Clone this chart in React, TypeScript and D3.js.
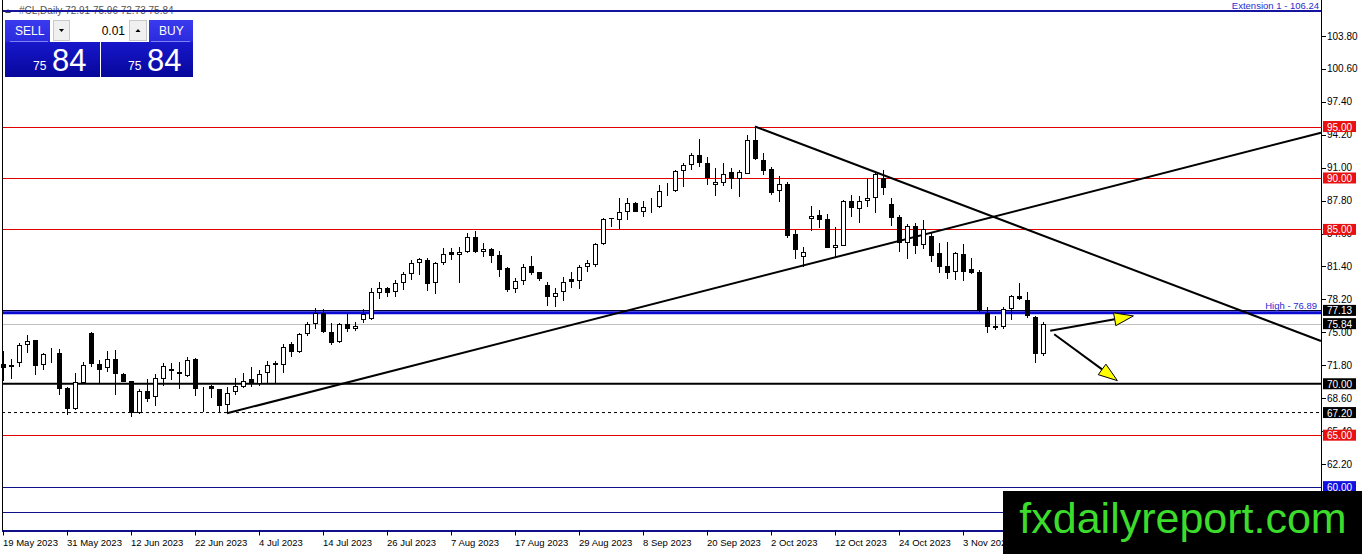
import * as d3 from 'd3';

// daily bars, 19 May 2023 .. 17 Nov 2023 (one per weekday)
const opens = [
  71.95, 71.65, 71.99, 73.74, 74.26, 71.79, 73.05, 72.96, 69.56, 67.52,
  70.11, 74.98, 71.92, 71.5, 72.41, 70.92, 70.24, 67.2, 69.33, 68.68,
  70.5, 71.44, 71.18, 70.79, 72.41, 69.5, 69.75, 69.46, 67.94, 69.17,
  69.72, 70.43, 69.98, 71.02, 71.85, 71.83, 73.84, 73.06, 74.81, 75.78,
  76.85, 75.07, 74.1, 75.81, 75.3, 76.2, 76.27, 78.79, 79.28, 78.89,
  79.76, 80.64, 81.71, 82.03, 79.76, 81.71, 82.78, 82.52, 82.84, 84.3,
  82.81, 83.07, 82.52, 81.22, 79.18, 80.02, 81.45, 80.83, 79.6, 78.47,
  78.89, 80.18, 79.99, 81.32, 81.55, 83.59, 86.08, 85.92, 86.66, 87.6,
  86.73, 87.3, 87.2, 88.7, 88.74, 90.68, 91.26, 92.23, 91.49, 89.29,
  89.55, 90.55, 89.87, 90.39, 93.69, 91.75, 90.84, 88.74, 89.39, 84.56,
  82.29, 85.98, 86.4, 86.02, 83.17, 83.43, 87.77, 86.95, 87.8, 88.02,
  90.03, 87.44, 86.24, 83.65, 85.33, 83.49, 84.36, 82.68, 81.45, 80.83,
  82.61, 81.12, 80.9, 76.85, 75.62, 75.55, 77.24, 78.53, 78.14, 76.46,
  72.91,
];
const highs = [
  73.2, 72.38, 73.93, 74.78, 74.3, 73.03, 73.51, 73.35, 69.66, 71.02,
  72.12, 75.07, 72.31, 73.22, 73.28, 71.02, 70.24, 69.46, 70.47, 70.95,
  72.05, 72.05, 72.15, 72.64, 72.54, 69.72, 69.88, 69.53, 69.66, 70.53,
  71.02, 71.66, 71.34, 72.22, 72.22, 73.87, 74.1, 74.9, 76.04, 77.33,
  77.24, 75.88, 75.88, 76.78, 76.0, 77.24, 79.28, 79.89, 79.44, 80.09,
  80.9, 82.03, 82.19, 82.19, 81.87, 83.17, 83.23, 83.33, 84.62, 84.85,
  83.72, 83.17, 82.94, 81.38, 80.25, 81.64, 82.42, 80.9, 79.93, 79.28,
  80.41, 80.83, 81.55, 82.03, 83.72, 86.08, 86.15, 88.02, 88.09, 87.7,
  87.77, 88.09, 89.32, 89.48, 90.78, 91.43, 92.4, 93.76, 92.01, 90.94,
  91.43, 90.94, 90.78, 94.18, 94.99, 92.46, 91.1, 90.2, 89.64, 84.95,
  83.33, 87.28, 86.89, 86.5, 85.21, 87.86, 88.35, 88.25, 89.97, 90.45,
  90.78, 88.02, 86.4, 85.53, 85.59, 85.92, 84.78, 83.65, 83.81, 82.84,
  83.59, 82.19, 81.06, 77.5, 76.59, 77.5, 78.63, 79.83, 78.95, 76.59,
  75.96,
];
const lows = [
  70.3, 70.43, 71.67, 73.03, 70.86, 71.34, 71.99, 68.91, 66.97, 67.45,
  70.05, 71.67, 70.11, 71.18, 68.91, 70.21, 66.74, 67.07, 68.26, 67.84,
  69.79, 70.37, 69.46, 70.69, 68.82, 67.29, 68.59, 67.29, 67.13, 68.91,
  69.56, 69.66, 69.79, 70.11, 70.11, 71.08, 72.64, 72.96, 74.65, 75.29,
  74.9, 73.77, 73.93, 75.07, 75.1, 75.88, 76.2, 78.21, 78.47, 78.47,
  79.12, 80.09, 80.57, 79.02, 78.73, 81.55, 82.03, 79.83, 82.74, 82.68,
  82.29, 81.71, 80.41, 78.96, 78.79, 79.6, 80.57, 80.02, 77.59, 77.5,
  78.08, 79.28, 79.18, 80.83, 81.38, 83.49, 85.21, 85.04, 85.92, 86.66,
  86.18, 86.57, 87.12, 88.25, 88.67, 89.16, 90.78, 91.04, 89.32, 88.25,
  89.22, 88.93, 88.19, 90.36, 91.75, 90.29, 88.35, 87.7, 84.14, 82.1,
  81.38, 84.88, 85.11, 83.17, 82.29, 83.39, 86.24, 85.6, 87.15, 86.57,
  88.35, 85.33, 82.84, 82.1, 82.58, 83.07, 81.87, 80.73, 80.18, 80.09,
  80.02, 80.67, 77.01, 74.9, 75.23, 75.29, 76.2, 78.14, 76.36, 72.05,
  72.73,
];
const closes = [
  71.5, 71.8, 73.77, 74.16, 71.76, 72.93, 73.1, 69.46, 67.52, 70.17,
  71.79, 71.89, 71.37, 72.38, 70.92, 70.21, 67.13, 69.33, 68.55, 70.53,
  71.7, 71.21, 70.95, 72.31, 69.46, 69.55, 69.46, 67.87, 69.07, 69.79,
  70.3, 69.98, 70.92, 71.79, 72.0, 73.61, 73.12, 74.81, 75.78, 76.85,
  75.07, 74.0, 75.78, 75.29, 75.6, 76.78, 78.89, 79.28, 78.86, 79.76,
  80.64, 81.71, 82.1, 79.67, 81.71, 82.58, 82.52, 82.78, 84.3, 82.84,
  83.07, 82.42, 81.06, 79.12, 80.02, 81.38, 80.8, 80.18, 78.47, 78.79,
  79.93, 79.93, 81.38, 81.71, 83.55, 85.98, 85.98, 86.73, 87.6, 86.73,
  87.15, 87.35, 88.74, 88.8, 90.68, 91.26, 92.23, 91.43, 90.03, 89.61,
  90.36, 89.87, 90.62, 93.69, 91.81, 90.71, 88.58, 89.39, 84.37, 83.0,
  82.78, 86.34, 85.92, 83.23, 83.49, 87.8, 87.05, 87.77, 88.09, 90.36,
  89.06, 86.08, 83.72, 85.33, 83.42, 85.04, 82.45, 81.38, 80.73, 82.68,
  80.83, 80.8, 77.07, 75.49, 75.46, 77.27, 78.53, 78.21, 76.59, 72.89,
  75.84,
];

const dateLabels = [
  '19 May 2023', '31 May 2023', '12 Jun 2023', '22 Jun 2023', '4 Jul 2023',
  '14 Jul 2023', '26 Jul 2023', '7 Aug 2023', '17 Aug 2023', '29 Aug 2023',
  '8 Sep 2023', '20 Sep 2023', '2 Oct 2023', '12 Oct 2023', '24 Oct 2023', '3 Nov 2023',
];
const priceTicks = [103.8, 100.6, 97.4, 94.2, 91.0, 87.8, 84.6, 81.4, 78.2, 75.0, 71.8, 68.6, 65.4, 62.2];

const redLevels = [95, 90, 85, 65];
const blueLevels = [60, 57.51, 55.7];
const extensionLevel = 106.24;
const highLevel = 76.89;
const resistLevel = 77.13;
const bidLevel = 75.84;
const supportLevel = 70;
const dashedLevel = 67.2;

// [bar index, price]
const riseLine = [[28, 67.13], [164.75, 94.4]];
const fallLine = [[94, 95.0], [164.75, 74.16]];
const arrowUp = [[130.9, 75.16], [141.3, 76.59]];
const arrowDown = [[131.4, 74.81], [139.3, 70.3]];

const W = 1362;
const H = 554;
const right = 1321;
const bottom = 530.5;
const font = 'Liberation Sans, Arial, sans-serif';

const x = d3.scaleLinear().domain([0, 130]).range([3, 1043]);
const y = d3.scaleLinear().domain([62.2, 103.8]).range([464, 36]);

const hline = (p: number) => Math.round(y(p)) + 0.5;

function Arrow({ pts }: { pts: number[][] }) {
  const x0 = x(pts[0][0]), y0 = y(pts[0][1]);
  const x1 = x(pts[1][0]), y1 = y(pts[1][1]);
  const a = Math.atan2(y1 - y0, x1 - x0);
  const len = 19, hw = 6.5;
  const bx = x1 - len * Math.cos(a), by = y1 - len * Math.sin(a);
  const px = -Math.sin(a) * hw, py = Math.cos(a) * hw;
  const head = `M${x1},${y1}L${bx + px},${by + py}L${bx - px},${by - py}Z`;
  return (
    <g>
      <line x1={x0} y1={y0} x2={bx} y2={by} stroke="#000" strokeWidth={2} />
      <path d={head} fill="#ffff00" stroke="#000" strokeWidth={1} />
    </g>
  );
}

function LabelBox({ p, text, fill }: { p: number; text: string; fill: string }) {
  const cy = y(p);
  return (
    <g>
      <rect x={1323} y={cy - 5.5} width={33} height={11} fill={fill} />
      <text x={1339.5} y={cy + 4} fill="#fff" fontSize={10} textAnchor="middle" fontFamily={font}>{text}</text>
    </g>
  );
}

function TradePanel() {
  return (
    <g fontFamily={font}>
      <defs>
        <linearGradient id="btn" x1="0" y1="0" x2="0" y2="1">
          <stop offset="0" stopColor="#3a3aee" />
          <stop offset="1" stopColor="#1212c4" />
        </linearGradient>
        <linearGradient id="px" x1="0" y1="0" x2="0" y2="1">
          <stop offset="0" stopColor="#1818cc" />
          <stop offset="1" stopColor="#06069a" />
        </linearGradient>
      </defs>
      <rect x={5} y={20} width={95} height={57} fill="url(#btn)" />
      <rect x={101} y={20} width={92} height={57} fill="url(#btn)" />
      <rect x={5} y={42} width={95} height={35} fill="url(#px)" />
      <rect x={101} y={42} width={92} height={35} fill="url(#px)" />
      <line x1={10} x2={48} y1={41.5} y2={41.5} stroke="#8080f0" />
      <line x1={151} x2={190} y1={41.5} y2={41.5} stroke="#8080f0" />
      <rect x={50} y={19} width={99} height={23} fill="#fff" />
      <rect x={53.5} y={20.5} width={16} height={20} fill="#f0f0f0" stroke="#c8c8c8" />
      <rect x={129.5} y={20.5} width={17} height={20} fill="#f0f0f0" stroke="#c8c8c8" />
      <path d="M59,29 L64,29 L61.5,32 Z" fill="#000" />
      <path d="M135.5,32 L140.5,32 L138,29 Z" fill="#000" />
      <text x={125} y={35} fontSize={12} textAnchor="end" fill="#000">0.01</text>
      <text x={15} y={35} fontSize={12} fill="#fff">SELL</text>
      <text x={159} y={35} fontSize={12} fill="#fff">BUY</text>
      <text x={33} y={70} fontSize={12} fill="#fff">75</text>
      <text x={52} y={71} fontSize={31} fill="#fff">84</text>
      <text x={128} y={70} fontSize={12} fill="#fff">75</text>
      <text x={147} y={71} fontSize={31} fill="#fff">84</text>
    </g>
  );
}

export default function App() {
  return (
    <svg width={W} height={H} style={{ position: 'absolute', left: 0, top: 0, background: '#fff' }} fontFamily={font}>
      <rect width={W} height={H} fill="#fff" />

      {/* title */}
      <path d="M5,13 L11,13 L8,9 Z" fill="#444" />
      <text x={19} y={14} fontSize={10} fill="#555">#CL,Daily  72.91 75.96 72.73 75.84</text>

      {/* horizontal levels */}
      <line x1={2} x2={right} y1={y(extensionLevel)} y2={y(extensionLevel)} stroke="#1414a0" strokeWidth={2} />
      <text x={right - 2} y={8.5} fontSize={9.5} textAnchor="end" fill="#2a2ad0">Extension 1 - 106.24</text>
      {redLevels.map(p => (
        <line key={p} x1={2} x2={right} y1={hline(p)} y2={hline(p)} stroke="#e00000" />
      ))}
      {blueLevels.map(p => (
        <line key={p} x1={2} x2={right} y1={hline(p)} y2={hline(p)} stroke="#10108a" />
      ))}
      <line x1={2} x2={right} y1={hline(bidLevel)} y2={hline(bidLevel)} stroke="#c0c0c0" />
      <line x1={2} x2={right} y1={y(dashedLevel)} y2={y(dashedLevel)} stroke="#000" strokeDasharray="3,3" />
      <line x1={2} x2={right} y1={y(supportLevel)} y2={y(supportLevel)} stroke="#000" strokeWidth={2} />
      <line x1={2} x2={right} y1={y(highLevel)} y2={y(highLevel)} stroke="#0a0ad0" strokeWidth={3} />
      <line x1={2} x2={right} y1={hline(resistLevel)} y2={hline(resistLevel)} stroke="#000030" />
      <text x={right - 4} y={y(resistLevel) - 1} fontSize={9.5} textAnchor="end" fill="#2a2ad0">High - 76.89</text>

      {/* trend lines */}
      <line x1={x(riseLine[0][0])} y1={y(riseLine[0][1])} x2={x(riseLine[1][0])} y2={y(riseLine[1][1])} stroke="#000" strokeWidth={2} />
      <line x1={x(fallLine[0][0])} y1={y(fallLine[0][1])} x2={x(fallLine[1][0])} y2={y(fallLine[1][1])} stroke="#000" strokeWidth={2} />

      {/* candles */}
      {closes.map((c, i) => {
        const o = opens[i];
        const cx = Math.round(x(i)) + 0.5;
        const top = Math.round(y(Math.max(o, c)));
        const bh = Math.max(1, Math.round(y(Math.min(o, c))) - top);
        return (
          <g key={i}>
            <line x1={cx} x2={cx} y1={Math.round(y(highs[i]))} y2={Math.round(y(lows[i]))} stroke="#000" />
            {c >= o
              ? <rect x={cx - 2} y={top + 0.5} width={4} height={Math.max(bh - 1, 0)} fill="#fff" stroke="#000" />
              : <rect x={cx - 2.5} y={top} width={5} height={bh} fill="#000" />}
          </g>
        );
      })}

      <Arrow pts={arrowUp} />
      <Arrow pts={arrowDown} />

      {/* frame */}
      <line x1={2.5} x2={2.5} y1={0} y2={bottom} stroke="#000" />
      <line x1={right + 0.5} x2={right + 0.5} y1={0} y2={bottom} stroke="#000" />
      <line x1={2} x2={right} y1={bottom} y2={bottom} stroke="#10108a" />

      {/* price axis */}
      {priceTicks.map(p => (
        <g key={p}>
          <line x1={right + 1} x2={right + 5} y1={hline(p)} y2={hline(p)} stroke="#000" />
          <text x={1327} y={y(p) + 3.5} fontSize={10} fill="#000">{p.toFixed(2)}</text>
        </g>
      ))}
      <LabelBox p={95} text="95.00" fill="#e81010" />
      <LabelBox p={90} text="90.00" fill="#e81010" />
      <LabelBox p={85} text="85.00" fill="#e81010" />
      <LabelBox p={resistLevel} text="77.13" fill="#000" />
      <LabelBox p={bidLevel} text="75.84" fill="#000" />
      <LabelBox p={supportLevel} text="70.00" fill="#000" />
      <LabelBox p={dashedLevel} text="67.20" fill="#000" />
      <LabelBox p={65} text="65.00" fill="#e81010" />
      <LabelBox p={60} text="60.00" fill="#1010e0" />

      {/* time axis */}
      {dateLabels.map((d, k) => (
        <g key={d}>
          <line x1={Math.round(x(k * 8)) + 0.5} x2={Math.round(x(k * 8)) + 0.5} y1={bottom} y2={bottom + 5} stroke="#000" />
          <text x={x(k * 8)} y={546} fontSize={9.5} fill="#000">{d}</text>
        </g>
      ))}

      <TradePanel />

      {/* watermark */}
      <rect x={1003} y={491} width={W - 1003} height={H - 491} fill="#000" />
      <text x={1183} y={533} fontSize={43} textAnchor="middle" fill="#3cdc2c" fontFamily="Liberation Sans, Arial, sans-serif">fxdailyreport.com</text>
    </svg>
  );
}
